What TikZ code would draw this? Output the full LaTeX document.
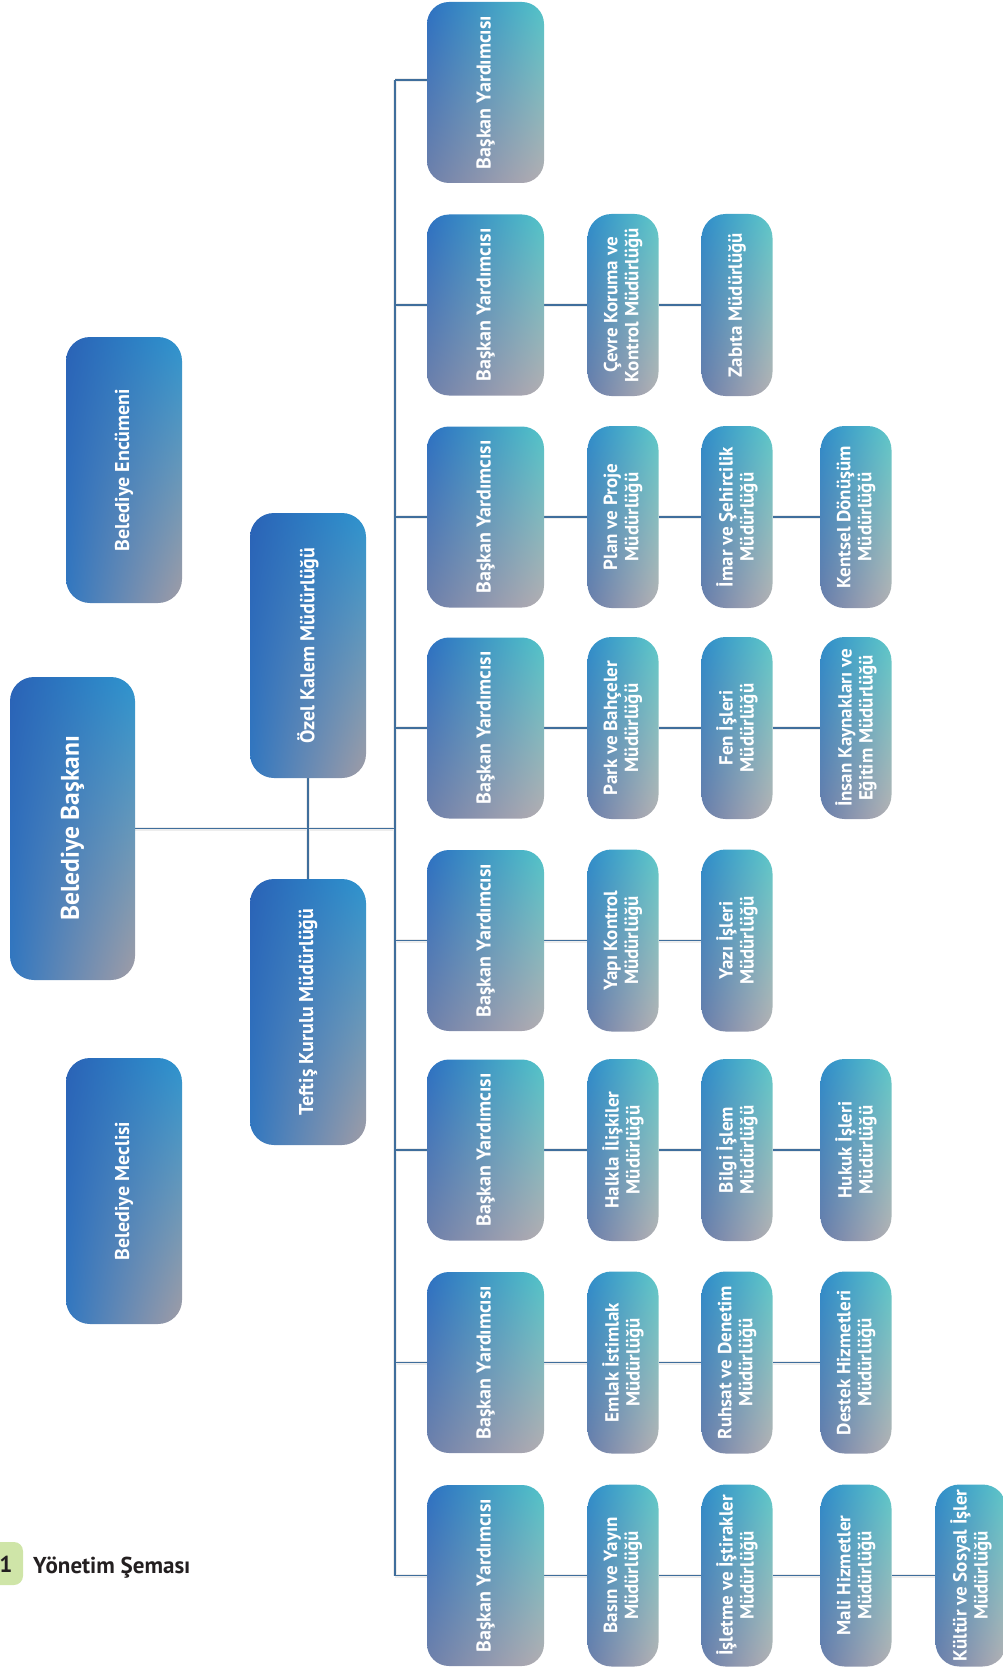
\documentclass[tikz,border=0pt]{standalone}
\usepackage{fontspec}
\setmainfont{PT Sans}
\usetikzlibrary{shadings,backgrounds}
\definecolor{lineblue}{HTML}{3F6E9C}
\definecolor{yUL}{HTML}{2C70C2}
\definecolor{yUR}{HTML}{52C4C8}
\definecolor{yLL}{HTML}{6E80AA}
\definecolor{yLR}{HTML}{B4AEB2}
\definecolor{cUL}{HTML}{2E8CCA}
\definecolor{cUR}{HTML}{5EC8C8}
\definecolor{cLL}{HTML}{6A7EAA}
\definecolor{cLR}{HTML}{B6B2B4}
\definecolor{lUL}{HTML}{2A62B6}
\definecolor{lUR}{HTML}{2E94CE}
\definecolor{lLL}{HTML}{3278C0}
\definecolor{lLR}{HTML}{A09CA6}
\definecolor{badgegreen}{HTML}{CFE5A8}
\definecolor{titlegray}{HTML}{231F20}
\tikzset{
  ybox/.style={shade, draw=none, inner sep=0pt, minimum width=117pt, minimum height=181pt,
    rounded corners=22pt, upper left=yUL, upper right=yUR, lower left=yLL, lower right=yLR},
  cbox/.style={shade, draw=none, inner sep=0pt, minimum width=71pt, minimum height=182pt,
    rounded corners=24pt, upper left=cUL, upper right=cUR, lower left=cLL, lower right=cLR},
  lbox/.style={shade, draw=none, inner sep=0pt, minimum width=116pt, minimum height=266pt,
    rounded corners=24pt, upper left=lUL, upper right=lUR, lower left=lLL, lower right=lLR},
  ytext/.style={rotate=90, text=white, inner sep=0pt, align=center, font=\bfseries\fontsize{20}{23}\selectfont},
  ctext/.style={rotate=90, text=white, inner sep=0pt, align=center, font=\bfseries\fontsize{19}{21}\selectfont},
  ltext/.style={rotate=90, text=white, inner sep=0pt, align=center, font=\bfseries\fontsize{20}{23}\selectfont},
  conn/.style={draw=lineblue, line width=1.8pt},
  connshadow/.style={draw=black!7, line width=4pt, shift={(2,3)}},
}
\newcommand\ybx[2]{\node[ybox] (#1) at (485.5,#2) {};\node[ytext] at (#1.center) {Başkan Yardımcısı};}
\newcommand\cbx[4]{\node[cbox] (#1) at (#2,#3) {};\node[ctext] at (#1.center) {#4};}
\begin{document}
\begin{tikzpicture}[x=1pt,y=-1pt]
\useasboundingbox (0,0) rectangle (1003,1669);
% left column
\node[lbox] (enc) at (124,470) {};
\node[ltext] at (enc.center) {Belediye Encümeni};
\node[lbox, minimum width=125pt, minimum height=303pt] (bsk) at (72.5,828.5) {};
\node[ltext, font=\bfseries\fontsize{25.5}{28}\selectfont] at (bsk.center) {Belediye Başkanı};
\node[lbox] (mec) at (124,1191) {};
\node[ltext] at (mec.center) {Belediye Meclisi};
\node[lbox, minimum height=265pt] (ozk) at (308,645.5) {};
\node[ltext] at (ozk.center) {Özel Kalem Müdürlüğü};
\node[lbox] (tef) at (308,1012) {};
\node[ltext] at (tef.center) {Teftiş Kurulu Müdürlüğü};
% deputies
\ybx{y1}{92.5}
\ybx{y2}{305}
\ybx{y3}{517}
\ybx{y4}{728}
\ybx{y5}{940.5}
\ybx{y6}{1150}
\ybx{y7}{1362.5}
\ybx{y8}{1575.5}
% directorates
\cbx{a2}{623}{305}{Çevre Koruma ve\\Kontrol Müdürlüğü}
\cbx{b2}{737}{305}{Zabıta Müdürlüğü}
\cbx{a3}{623}{517}{Plan ve Proje\\Müdürlüğü}
\cbx{b3}{737}{517}{İmar ve Şehircilik\\Müdürlüğü}
\cbx{c3}{856}{517}{Kentsel Dönüşüm\\Müdürlüğü}
\cbx{a4}{623}{728}{Park ve Bahçeler\\Müdürlüğü}
\cbx{b4}{737}{728}{Fen İşleri\\Müdürlüğü}
\cbx{c4}{856}{728}{İnsan Kaynakları ve\\Eğitim Müdürlüğü}
\cbx{a5}{623}{940.5}{Yapı Kontrol\\Müdürlüğü}
\cbx{b5}{737}{940.5}{Yazı İşleri\\Müdürlüğü}
\cbx{a6}{623}{1150}{Halkla İlişkiler\\Müdürlüğü}
\cbx{b6}{737}{1150}{Bilgi İşlem\\Müdürlüğü}
\cbx{c6}{856}{1150}{Hukuk İşleri\\Müdürlüğü}
\cbx{a7}{623}{1362.5}{Emlak İstimlak\\Müdürlüğü}
\cbx{b7}{737}{1362.5}{Ruhsat ve Denetim\\Müdürlüğü}
\cbx{c7}{856}{1362.5}{Destek Hizmetleri\\Müdürlüğü}
\cbx{a8}{623}{1575.5}{Basın ve Yayın\\Müdürlüğü}
\cbx{b8}{737}{1575.5}{İşletme ve İştirakler\\Müdürlüğü}
\cbx{c8}{856}{1575.5}{Mali Hizmetler\\Müdürlüğü}
\cbx{d8}{971}{1575.5}{Kültür ve Sosyal İşler\\Müdürlüğü}
% trunk coordinates
\coordinate (ttop) at (395,80);
\coordinate (tbot) at (395,1575.5);
% title
\node[fill=badgegreen, rounded corners=9pt, minimum width=40pt, minimum height=43pt, inner sep=0pt] (badge) at (3,1563.5) {};
\node[text=titlegray, font=\bfseries\fontsize{23}{26}\selectfont, inner sep=0pt] (num) at (6,1564) {1};
\node[anchor=base west, text=titlegray, font=\bfseries\fontsize{23}{26}\selectfont, inner sep=0pt] (title) at (33,1573) {Yönetim Şeması};
% connectors
\begin{scope}[on background layer]
  \foreach \s in {connshadow,conn}{
    \draw[\s] (ttop) -- (tbot);
    \draw[\s] (bsk.east) -- (bsk.east -| ttop);
    \draw[\s] (ozk.south) -- (tef.north);
    \draw[\s] (ttop) -- (ttop -| y1.west);
    \foreach \r in {y2,y3,y4,y5,y6,y7,y8}{\draw[\s] (\r.west -| ttop) -- (\r.west);}
    \draw[\s] (y2.east) -- (a2.west); \draw[\s] (a2.east) -- (b2.west);
    \draw[\s] (y3.east) -- (a3.west); \draw[\s] (a3.east) -- (b3.west); \draw[\s] (b3.east) -- (c3.west);
    \draw[\s] (y4.east) -- (a4.west); \draw[\s] (a4.east) -- (b4.west); \draw[\s] (b4.east) -- (c4.west);
    \draw[\s] (y5.east) -- (a5.west); \draw[\s] (a5.east) -- (b5.west);
    \draw[\s] (y6.east) -- (a6.west); \draw[\s] (a6.east) -- (b6.west); \draw[\s] (b6.east) -- (c6.west);
    \draw[\s] (y7.east) -- (a7.west); \draw[\s] (a7.east) -- (b7.west); \draw[\s] (b7.east) -- (c7.west);
    \draw[\s] (y8.east) -- (a8.west); \draw[\s] (a8.east) -- (b8.west); \draw[\s] (b8.east) -- (c8.west); \draw[\s] (c8.east) -- (d8.west);
  }
\end{scope}
\end{tikzpicture}
\end{document}
